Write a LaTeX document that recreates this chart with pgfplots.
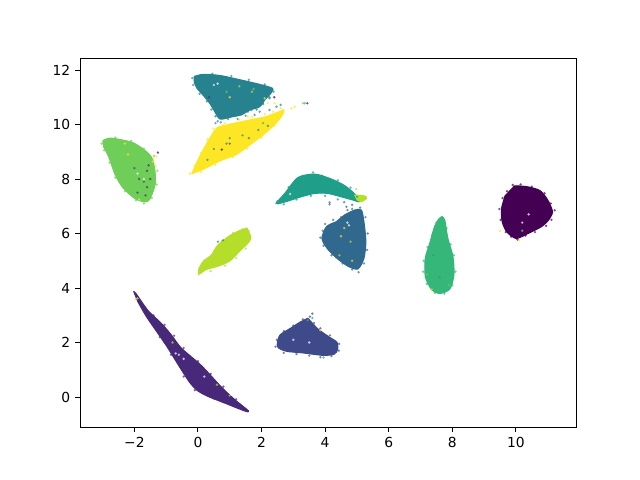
\documentclass[border=0pt,10pt]{standalone}
\usepackage{fontspec}
\setmainfont{DejaVu Sans}
\usepackage{pgfplots}
\pgfplotsset{compat=1.18}

% viridis, ten classes
\definecolor{c0}{HTML}{440154}
\definecolor{c1}{HTML}{482878}
\definecolor{c2}{HTML}{3E4A89}
\definecolor{c3}{HTML}{31688E}
\definecolor{c4}{HTML}{26828E}
\definecolor{c5}{HTML}{1F9E89}
\definecolor{c6}{HTML}{35B779}
\definecolor{c7}{HTML}{6ECE58}
\definecolor{c8}{HTML}{B5DE2B}
\definecolor{c9}{HTML}{FDE725}

\pgfplotsset{
  cluster/.style={smooth, tension=0.45, fill=#1, draw=#1, line width=0.8pt,
    line cap=round, line join=round},
  stray/.style={only marks, mark=*, mark size=0.95pt, color=#1, opacity=0.7,
    mark options={draw opacity=0}},
}

\begin{document}
\begin{tikzpicture}
\useasboundingbox (-0.8in,-0.53in) rectangle (5.6in,4.27in);
\begin{axis}[
    scale only axis,
    width=4.96in,
    height=3.69in,
    xmin=-3.71, xmax=11.89,
    ymin=-1.10, ymax=12.44,
    xtick={-2,0,2,4,6,8,10},
    xticklabels={−2,0,2,4,6,8,10},
    ytick={0,2,4,6,8,10,12},
    yticklabels={0,2,4,6,8,10,12},
    tick align=outside,
    xtick pos=lower,
    ytick pos=left,
    major tick length=3.5pt,
    tick style={black, line width=0.7pt},
    axis line style={line width=0.7pt},
    xticklabel style={yshift=-0.5pt},
]

% dark purple blob
\addplot[cluster=c0] coordinates {(9.96,7.75) (10.33,7.72) (10.75,7.58) (11.0,7.23) (11.15,6.80) (11.03,6.50) (10.80,6.25) (10.38,6.0) (10.01,5.82) (9.72,6.05) (9.57,6.43) (9.55,6.92) (9.66,7.38)} --cycle;
\addplot[stray=c0] coordinates {(9.9,7.78) (10.15,7.8) (10.5,7.72) (10.9,7.48) (11.1,7.1) (11.22,6.85) (11.12,6.5) (10.95,6.28) (10.6,6.05) (10.3,5.92) (10.05,5.78) (9.85,5.88) (9.68,6.05) (9.52,6.5) (9.48,6.9) (9.58,7.3) (9.72,7.55)};
% long sliver
\addplot[cluster=c1] coordinates {(-2.02,3.87) (-1.94,3.78) (-1.57,3.17) (-1.15,2.70) (-0.84,2.28) (-0.52,1.79) (0.11,1.15) (0.74,0.36) (1.15,-0.09) (1.59,-0.51) (1.47,-0.51) (0.84,-0.22) (0.30,0.03) (-0.02,0.24) (-0.25,0.52) (-0.58,1.11) (-0.94,1.79) (-1.26,2.34) (-1.62,2.95) (-1.89,3.50)} --cycle;
\addplot[stray=c1] coordinates {(-1.4,3.0) (-1.05,2.65) (-0.75,2.25) (-0.45,1.8) (0.0,1.32) (0.4,0.85) (0.8,0.38) (1.2,-0.08) (1.05,-0.2) (0.5,-0.05) (-0.1,0.25) (-0.45,0.75) (-0.85,1.55) (-1.2,2.2)};
% navy triangle
\addplot[cluster=c2] coordinates {(3.46,2.89) (3.77,2.50) (4.14,2.19) (4.37,2.01) (4.39,1.74) (4.28,1.57) (3.93,1.53) (3.30,1.62) (2.78,1.68) (2.50,1.85) (2.57,2.26) (2.88,2.50) (3.20,2.74)} --cycle;
\addplot[stray=c2] coordinates {(3.3,2.85) (3.0,2.62) (2.7,2.42) (2.48,2.1) (2.44,1.85) (2.7,1.62) (3.1,1.58) (3.5,1.52) (3.85,1.46) (4.2,1.5) (4.43,1.7) (4.44,1.95) (4.15,2.26) (3.85,2.52) (3.65,2.72)};
% blue heart
\addplot[cluster=c3] coordinates {(4.61,6.68) (4.93,6.86) (5.14,6.86) (5.22,6.43) (5.28,5.70) (5.22,5.09) (5.03,4.70) (4.72,4.80) (4.35,5.11) (4.06,5.46) (3.90,5.82) (4.04,6.25) (4.35,6.43)} --cycle;
\addplot[stray=c3] coordinates {(4.5,6.6) (4.25,6.5) (4.0,6.35) (3.92,6.1) (3.85,5.85) (3.95,5.55) (4.2,5.2) (4.55,4.9) (4.85,4.68) (5.05,4.58) (5.22,4.9) (5.32,5.4) (5.34,6.0) (5.27,6.6) (5.1,6.95) (4.85,6.9)};
% teal fan
\addplot[cluster=c4] coordinates {(-0.12,11.76) (0.16,11.84) (0.68,11.80) (1.21,11.67) (1.84,11.50) (2.34,11.33) (2.29,11.14) (2.10,10.90) (1.94,10.65) (1.63,10.53) (1.36,10.35) (1.10,10.29) (0.70,10.20) (0.53,10.47) (0.37,10.78) (0.16,11.08) (-0.03,11.33) (-0.12,11.57)} --cycle;
\addplot[stray=c4] coordinates {(-0.18,11.7) (-0.15,11.45) (0.05,11.12) (0.28,10.85) (0.42,10.55) (0.55,10.3) (0.62,10.12) (0.72,10.08) (0.95,10.2) (1.25,10.2) (1.5,10.32) (1.85,10.55) (2.05,10.75) (2.25,11.0) (2.38,11.2) (2.1,11.47) (1.6,11.64) (1.05,11.78) (0.45,11.86)};
% crescent
\addplot[cluster=c5] coordinates {(2.45,7.11) (2.73,7.47) (3.14,8.05) (3.67,8.18) (4.19,8.0) (4.61,7.76) (4.93,7.45) (5.08,7.17) (4.87,7.23) (4.56,7.33) (4.09,7.47) (3.67,7.47) (3.25,7.35) (2.83,7.19) (2.52,7.09)} --cycle;
\addplot[stray=c5] coordinates {(2.5,7.18) (2.85,7.7) (3.3,8.12) (3.62,8.24) (3.9,8.12) (4.4,7.95) (4.8,7.68) (4.4,7.25) (4.0,7.38) (3.55,7.38) (3.1,7.25) (2.7,7.07)};
% teardrop
\addplot[cluster=c6] coordinates {(7.67,6.62) (7.76,6.50) (7.86,5.82) (8.02,5.15) (8.05,4.48) (7.92,3.96) (7.60,3.80) (7.34,3.96) (7.15,4.42) (7.15,5.09) (7.29,5.64) (7.44,6.25) (7.58,6.54)} --cycle;
\addplot[stray=c6] coordinates {(7.7,6.55) (7.5,6.4) (7.37,5.95) (7.22,5.5) (7.1,5.0) (7.08,4.6) (7.2,4.15) (7.45,3.82) (7.75,3.79) (8.0,4.1) (8.1,4.6) (8.05,5.2) (7.95,5.6) (7.82,6.2)};
% light green leaf
\addplot[cluster=c7] coordinates {(-2.99,9.41) (-2.78,9.50) (-2.46,9.45) (-2.04,9.33) (-1.68,9.06) (-1.44,8.76) (-1.35,8.27) (-1.35,7.78) (-1.52,7.25) (-1.68,7.16) (-1.99,7.29) (-2.36,7.68) (-2.60,8.15) (-2.81,8.82) (-2.97,9.19)} --cycle;
\addplot[stray=c7] coordinates {(-3.03,9.3) (-2.95,9.05) (-2.78,8.6) (-2.6,8.05) (-2.3,7.55) (-1.95,7.22) (-1.7,7.1) (-1.45,7.3) (-1.3,7.8) (-1.28,8.3) (-1.38,8.85) (-1.7,9.12) (-2.1,9.4) (-2.6,9.52)};
% lime oval
\addplot[cluster=c8] coordinates {(1.54,6.20) (1.66,5.88) (1.61,5.70) (1.31,5.35) (1.00,4.99) (0.63,4.80) (0.26,4.68) (0.05,4.52) (0.02,4.66) (0.16,4.97) (0.42,5.21) (0.63,5.58) (1.00,5.92) (1.31,6.11)} --cycle;
\addplot[stray=c8] coordinates {(1.6,6.1) (1.4,6.15) (1.1,6.02) (0.75,5.72) (0.5,5.35) (0.22,5.02) (0.05,4.75) (0.02,4.5) (0.4,4.62) (0.85,4.82) (1.2,5.1) (1.5,5.45)};
% lime tip of the crescent
\addplot[cluster=c8] coordinates {(4.93,7.41) (5.24,7.38) (5.30,7.29) (5.14,7.17) (5.01,7.23)} --cycle;
% yellow wedge
\addplot[cluster=c9] coordinates {(-0.19,8.20) (0.16,8.35) (0.68,8.66) (1.21,8.90) (1.63,9.25) (2.04,9.61) (2.45,10.04) (2.67,10.38) (2.70,10.55) (2.62,10.50) (2.15,10.29) (1.73,10.19) (1.36,10.10) (0.89,9.98) (0.58,9.86) (0.37,9.49) (0.16,9.06) (0.0,8.70) (-0.14,8.33)} --cycle;
\addplot[stray=c9] coordinates {(-0.25,8.2) (-0.1,8.5) (0.1,8.95) (0.3,9.45) (0.48,9.85) (0.85,10.05) (1.3,10.18) (1.7,10.28) (2.1,10.38) (2.6,10.6) (2.4,9.95) (2.0,9.52) (1.55,9.12) (1.1,8.8) (0.55,8.52) (0.1,8.25)};

% stray points, by class
\addplot[stray=c0] coordinates {(-1.26,8.97) (3.44,10.78) (2.40,11.0) (0.75,9.08)};
\addplot[stray=c1] coordinates {(-1.85,8.0) (-1.6,8.3) (-1.5,8.0) (-1.9,7.5) (-1.65,7.4) (-1.55,8.5) (0.35,11.0) (-1.6,7.7)};
\addplot[stray=c2] coordinates {(3.60,3.06) (3.52,2.95) (1.0,9.3) (-2.0,8.4) (-1.7,7.9)};
\addplot[stray=c3] coordinates {(4.67,6.98) (4.70,6.86) (4.14,7.14) (4.14,7.07) (4.6,7.15) (4.85,7.05)};
\addplot[stray=c4] coordinates {(1.57,10.47) (1.68,10.53) (1.78,10.35) (2.04,10.78) (2.25,10.96) (2.47,10.65) (2.60,10.72) (1.94,10.47) (2.25,10.53) (1.0,9.5) (1.4,9.6) (0.9,9.3) (0.5,9.1) (1.6,9.5) (2.2,9.95) (0.3,8.7) (1.9,9.8) (0.55,10.05) (0.63,5.70) (0.79,5.75)};
\addplot[stray=c5] coordinates {(4.9,7.25) (5.0,7.35) (7.4,5.2) (7.6,4.4) (3.6,2.9)};
\addplot[stray=c6] coordinates {(3.36,10.78) (2.05,10.05) (3.95,1.45) (3.45,2.82)};
\addplot[stray=c7] coordinates {(3.30,10.78) (7.2,4.5) (7.9,4.1) (0.9,11.2) (1.75,11.3) (10.2,6.1)};
\addplot[stray=c8] coordinates {(4.98,7.63) (1.3,11.4) (1.7,11.2) (4.45,5.2) (4.8,5.7) (-1.95,3.6) (0.6,0.45) (1.0,0.05) (-0.8,2.0) (7.35,3.95)};
\addplot[stray=c9] coordinates {(2.10,10.96) (2.20,10.78) (2.41,10.78) (2.36,10.47) (1.57,10.29) (0.79,9.98) (0.68,9.92) (3.04,10.65) (2.94,10.59) (-1.31,8.82) (-1.42,8.64) (-1.34,8.49) (-1.40,8.75) (-2.3,9.3) (-2.2,8.9) (-1.85,7.25) (4.6,6.2) (4.85,5.0) (4.5,5.9) (9.5,6.1) (10.1,5.75) (3.85,2.45) (1.0,11.0) (-1.9,3.62)};

% pale gaps inside the dense clouds
\addplot[stray=white] coordinates {(4.7,6.4) (4.75,6.3) (0.5,11.45) (0.62,11.5) (-0.7,1.6) (-0.6,1.55) (-0.45,1.4) (0.2,0.75) (10.4,6.7) (10.2,6.4) (3.0,2.1) (3.5,2.0) (-1.7,8.0) (-1.9,8.2) (2.9,7.45)};
\end{axis}
\end{tikzpicture}
\end{document}
